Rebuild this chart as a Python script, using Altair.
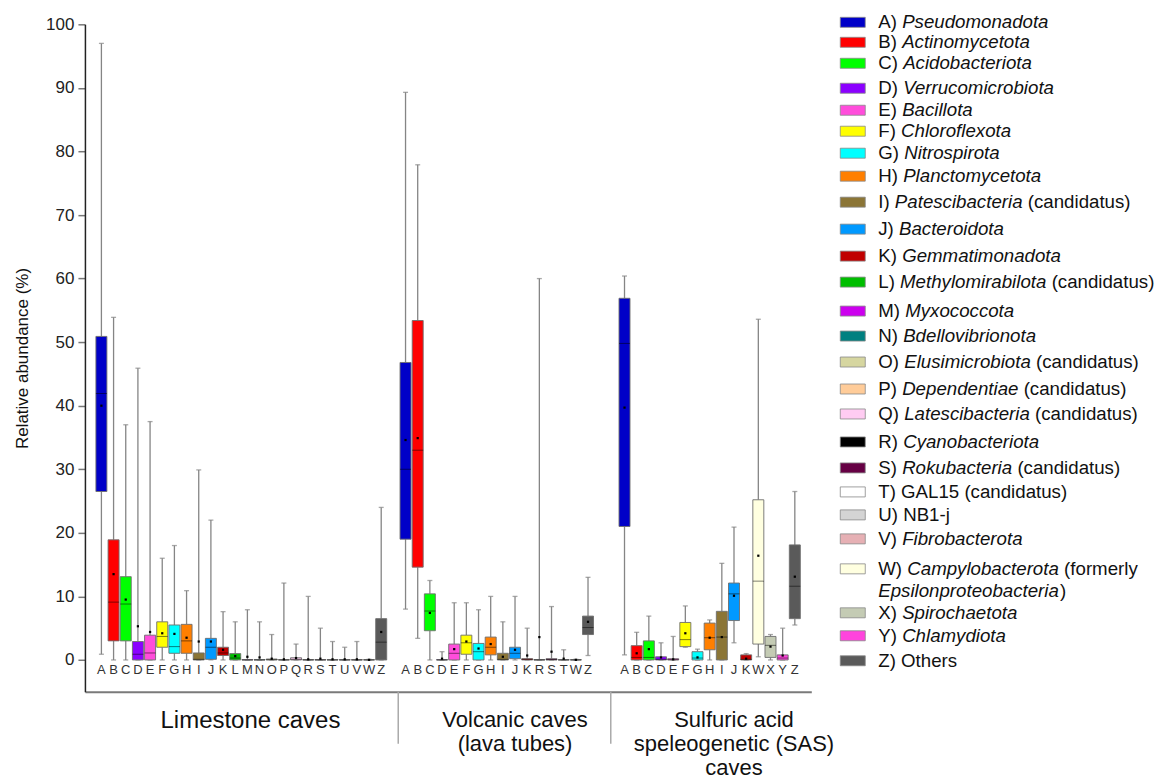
import altair as alt
import pandas as pd

# ---------------- data ----------------
phylum_letters = list("ABCDEFGHIJKLMNOPQRSTUVWXYZ")
phylum_italic = ["Pseudomonadota", "Actinomycetota", "Acidobacteriota", "Verrucomicrobiota",
                 "Bacillota", "Chloroflexota", "Nitrospirota", "Planctomycetota",
                 "Patescibacteria", "Bacteroidota", "Gemmatimonadota", "Methylomirabilota",
                 "Myxococcota", "Bdellovibrionota", "Elusimicrobiota", "Dependentiae",
                 "Latescibacteria", "Cyanobacteriota", "Rokubacteria", "", "",
                 "Fibrobacterota", "Campylobacterota", "Spirochaetota", "Chlamydiota", ""]
phylum_plain = ["", "", "", "", "", "", "", "", "(candidatus)", "", "", "(candidatus)",
                "", "", "(candidatus)", "(candidatus)", "(candidatus)", "", "(candidatus)",
                "GAL15 (candidatus)", "NB1-j", "", "(formerly", "", "", "Others"]
phylum_colors = ["#0000C8", "#FF0000", "#00FF00", "#8B00FF", "#FF4DDB", "#FFFF00", "#00FFFF",
                 "#FF7F00", "#8B7536", "#0099FF", "#C00000", "#00BE00", "#CC00EE", "#008080",
                 "#D6D6A0", "#FFCC99", "#FFCCF2", "#000000", "#660044", "#FFFFFF", "#D4D4D4",
                 "#E6B0B4", "#FFFFE0", "#C4CBB4", "#FF44DD", "#5A5A5A"]

group_names = ["Limestone caves", "Volcanic caves\n(lava tubes)",
               "Sulfuric acid\nspeleogenetic (SAS)\ncaves"]

lime_letters = list("ABCDEFGHIJKLMNOPQRSTUVWZ")
lime_min = [0.9, 0, 0, 0, 0, 0, 0, 0, 0, 0, 0, 0, 0, 0, 0, 0, 0, 0, 0, 0, 0, 0, 0, 0]
lime_q1 = [26.5, 3.0, 3.0, 0, 0, 2.0, 1.05, 1.05, 0, 0.1, 0.7, 0, 0, 0, 0, 0, 0, 0, 0, 0, 0, 0, 0, 0]
lime_med = [41.9, 9.1, 8.8, 0.9, 1.1, 3.7, 2.1, 3.0, 0.1, 2.0, 1.1, 0.3, 0, 0, 0.05, 0, 0.1, 0, 0, 0, 0, 0, 0, 2.8]
lime_q3 = [50.9, 18.9, 13.1, 2.9, 3.9, 6.0, 5.5, 5.6, 1.1, 3.4, 2.0, 1.0, 0.05, 0.05, 0.15, 0.05,
           0.35, 0.05, 0.05, 0.05, 0.05, 0.05, 0.05, 6.5]
lime_mean = [40.0, 13.5, 9.5, 5.3, 4.4, 4.2, 4.1, 3.5, 2.9, 2.9, 1.6, 0.6, 0.5, 0.4, 0.2, 0.1,
             0.3, 0.1, 0.2, 0.1, 0.1, 0.1, 0.02, 4.4]
lime_max = [97.0, 53.9, 37.0, 45.9, 37.5, 16.0, 18.0, 10.9, 29.9, 22.0, 7.6, 6.0, 7.9, 6.0, 4.0,
            12.1, 2.5, 10.0, 5.0, 2.9, 2.0, 2.9, 0.1, 24.0]

volc_letters = list("ABCDEFGHIJKRSTWZ")
volc_min = [8.0, 3.4, 0, 0, 0, 0, 0, 0, 0, 0, 0, 0, 0, 0, 0, 0.7]
volc_q1 = [19.0, 14.6, 4.6, 0, 0, 0.9, 0, 0.8, 0, 0.2, 0, 0, 0, 0, 0, 4.0]
volc_med = [30.0, 33.0, 7.7, 0, 1.05, 2.7, 1.3, 2.0, 0.1, 1.05, 0.1, 0, 0.05, 0, 0, 5.1]
volc_q3 = [46.8, 53.4, 10.4, 0.05, 2.5, 3.9, 2.6, 3.6, 1.05, 2.0, 0.2, 0.05, 0.2, 0.05, 0.05, 6.9]
volc_mean = [34.6, 34.9, 7.4, 0.2, 1.7, 2.9, 1.8, 2.5, 0.5, 1.6, 0.7, 3.6, 1.3, 0.2, 0.02, 6.0]
volc_max = [89.3, 77.9, 12.5, 1.3, 9.0, 9.0, 7.9, 10.0, 6.0, 10.0, 5.0, 60.0, 8.4, 1.6, 0.1, 13.0]

sas_letters = list("ABCDEFGHIJKWXYZ")
sas_min = [0.8, 0, 0, 0, 0, 2.0, 0, 0, 0, 2.7, 0, 0.5, 0, 0, 5.5]
sas_q1 = [21.0, 0, 0, 0, 0, 2.1, 0, 1.6, 0, 6.2, 0, 2.5, 0.4, 0, 6.5]
sas_med = [49.8, 0.4, 0.4, 0.1, 0.05, 3.2, 0.3, 3.5, 3.6, 10.4, 0.1, 12.4, 2.3, 0.3, 11.6]
sas_q3 = [56.9, 2.25, 3.0, 0.5, 0.2, 5.9, 1.3, 5.8, 7.65, 12.1, 0.8, 25.2, 3.7, 0.8, 18.1]
sas_mean = [39.7, 1.05, 1.7, 0.4, 0.1, 4.2, 0.4, 3.5, 3.6, 10.1, 0.2, 16.4, 2.1, 0.7, 13.1]
sas_max = [60.4, 4.35, 6.9, 2.7, 3.7, 8.5, 1.7, 6.3, 15.2, 20.9, 1.0, 53.6, 4.0, 5.0, 26.5]

# ---------------- layout constants ----------------
W, H = 727, 668
FONT = "Liberation Sans"
color_of = dict(zip(phylum_letters, phylum_colors))

groups = [
    ("L", lime_letters, lime_min, lime_q1, lime_med, lime_q3, lime_mean, lime_max),
    ("V", volc_letters, volc_min, volc_q1, volc_med, volc_q3, volc_mean, volc_max),
    ("S", sas_letters, sas_min, sas_q1, sas_med, sas_q3, sas_mean, sas_max),
]
rows = []
for code, lets, mn, q1, md, q3, me, mx in groups:
    for i, l in enumerate(lets):
        rows.append(dict(key=f"{code}_{l}", letter=l, lo=mn[i], q1=q1[i], med=md[i],
                         q3=q3[i], mean=me[i], hi=mx[i], color=color_of[l]))
box_df = pd.DataFrame(rows)

key_order = ([f"L_{l}" for l in lime_letters] + ["gap1"] + [f"V_{l}" for l in volc_letters]
             + ["gap2", "gap3"] + [f"S_{l}" for l in sas_letters])

xscale = alt.Scale(domain=key_order, paddingInner=0, paddingOuter=0.855)
xaxis = alt.Axis(labels=False, ticks=False, title=None, domainColor="#7a7a7a", domainWidth=2)
yscale = alt.Scale(domain=[-5, 100], nice=False, zero=False)
yaxis = alt.Axis(values=list(range(0, 101, 10)), title="Relative abundance (%)", grid=False,
                 domainColor="#222222", domainWidth=1.5, tickColor="#777777", tickSize=7,
                 tickWidth=1.5, labelFontSize=17, labelColor="#222222", labelPadding=4,
                 labelFont=FONT, titleFont=FONT, titleFontSize=17, titleFontWeight="normal",
                 titleColor="#111111", titlePadding=14)


def X(band=None):
    if band is None:
        return alt.X("key:N", scale=xscale, axis=xaxis)
    return alt.X("key:N", scale=xscale, axis=xaxis, bandPosition=band)


def Y(field):
    return alt.Y(field, scale=yscale, axis=yaxis)


WH = "#858585"
base = alt.Chart(box_df)
whisk_lo = base.mark_rule(color=WH, strokeWidth=1.3).encode(x=X(), y=Y("lo:Q"), y2="q1:Q")
whisk_hi = base.mark_rule(color=WH, strokeWidth=1.3).encode(x=X(), y=Y("q3:Q"), y2="hi:Q")
cap_lo = base.mark_tick(size=5, thickness=1.3, color=WH).encode(x=X(), y=Y("lo:Q"))
cap_hi = base.mark_tick(size=5, thickness=1.3, color=WH).encode(x=X(), y=Y("hi:Q"))
boxes = base.mark_bar(size=11, stroke="#6e6e6e", strokeWidth=0.9).encode(
    x=X(), y=Y("q1:Q"), y2="q3:Q", fill=alt.Fill("color:N", scale=None))
medians = base.mark_tick(size=11, thickness=1, color="black", opacity=0.5).encode(
    x=X(), y=Y("med:Q"))
means = base.mark_point(filled=True, size=5, shape="square", color="black", opacity=1).encode(
    x=X(), y=Y("mean:Q"))
letters = base.mark_text(fontSize=13, color="#333333", baseline="middle", font=FONT).encode(
    x=X(), y=alt.datum(-1.6), text="letter:N")

glab1 = alt.Chart(pd.DataFrame({"key": ["L_M"], "label": group_names[:1]})).mark_text(
    fontSize=24, font=FONT, color="#111111", align="center", baseline="top",
    lineBreak="\n", lineHeight=24).encode(x=X(0.75), y=alt.value(H + 17), text="label:N")
glab2 = alt.Chart(pd.DataFrame({"key": ["V_J", "S_J"], "label": group_names[1:]})).mark_text(
    fontSize=22, font=FONT, color="#111111", align="center", baseline="top",
    lineBreak="\n", lineHeight=24).encode(x=X(), y=alt.value(H + 18), text="label:N")

sep1 = alt.Chart(pd.DataFrame({"key": ["gap1"]})).mark_rule(color="#aaaaaa", strokeWidth=1.5).encode(
    x=X(0.9), y=alt.value(H), y2=alt.value(H + 52))
sep2 = alt.Chart(pd.DataFrame({"key": ["gap3"]})).mark_rule(color="#aaaaaa", strokeWidth=1.5).encode(
    x=X(0.37), y=alt.value(H), y2=alt.value(H + 52))

main = alt.layer(whisk_lo, whisk_hi, cap_lo, cap_hi, boxes, medians, means, letters,
                 glab1, glab2, sep1, sep2).properties(width=W, height=H)

# ---------------- hand-made legend (mixed italic / roman text) ----------------
ARIAL = {" ": 278, "(": 333, ")": 333, "-": 333, "1": 556, "5": 556,
         "A": 667, "B": 667, "C": 722, "D": 722, "E": 667, "F": 611, "G": 778, "H": 722,
         "I": 278, "J": 500, "K": 667, "L": 556, "M": 833, "N": 722, "O": 778, "P": 667,
         "Q": 778, "R": 722, "S": 667, "T": 611, "U": 722, "V": 667, "W": 944, "X": 667,
         "Y": 667, "Z": 611, "a": 556, "b": 556, "c": 500, "d": 556, "e": 556, "f": 278,
         "g": 556, "h": 556, "i": 222, "j": 222, "k": 500, "l": 222, "m": 833, "n": 556,
         "o": 556, "p": 556, "q": 556, "r": 333, "s": 500, "t": 278, "u": 556, "v": 500,
         "w": 722, "x": 500, "y": 500, "z": 500}
LFS = 18.7


def tw(s):
    return sum(ARIAL.get(c, 556) for c in s) * LFS / 1000.0


# row centres (pixels from plot top); legend rows are irregularly spaced in the figure
row_y = [-2, 18, 39, 64, 86, 107, 129, 152, 178, 205, 232, 258, 287, 312, 338, 365, 390,
         418, 444, 468, 491, 515, 545, 589, 612, 637]
second_line_y = 567
SW_X, TX_X = 0, 38

sw_rows, txt_rows = [], []
for i, l in enumerate(phylum_letters):
    y = row_y[i]
    sw_rows.append(dict(x0=SW_X, x1=SW_X + 25, y0=y - 5, y1=y + 5, color=phylum_colors[i]))
    pre = f"{l}) "
    txt_rows.append(dict(x=TX_X, y=y, t=pre, it=False))
    xx = TX_X + tw(pre)
    if phylum_italic[i]:
        txt_rows.append(dict(x=xx, y=y, t=phylum_italic[i], it=True))
        xx += tw(phylum_italic[i]) + tw(" ")
    if phylum_plain[i]:
        txt_rows.append(dict(x=xx, y=y, t=phylum_plain[i], it=False))
    if l == "W":
        sec = "Epsilonproteobacteria"
        txt_rows.append(dict(x=TX_X, y=second_line_y, t=sec, it=True))
        txt_rows.append(dict(x=TX_X + tw(sec) + 1, y=second_line_y, t=")", it=False))

sw_df = pd.DataFrame(sw_rows)
txt_df = pd.DataFrame(txt_rows)
LW = 325
lx = alt.Scale(domain=[0, LW], nice=False, zero=False)
ly = alt.Scale(domain=[0, H], reverse=True, nice=False, zero=False)

swatches = alt.Chart(sw_df).mark_rect(stroke="#888888", strokeWidth=0.8).encode(
    x=alt.X("x0:Q", scale=lx, axis=None), x2="x1:Q",
    y=alt.Y("y0:Q", scale=ly, axis=None), y2="y1:Q",
    fill=alt.Fill("color:N", scale=None))
txt_norm = alt.Chart(txt_df).transform_filter("!datum.it").mark_text(
    align="left", baseline="middle", fontSize=LFS, font=FONT, color="#111111").encode(
    x=alt.X("x:Q", scale=lx, axis=None), y=alt.Y("y:Q", scale=ly, axis=None), text="t:N")
txt_ital = alt.Chart(txt_df).transform_filter("datum.it").mark_text(
    align="left", baseline="middle", fontSize=LFS, font=FONT, fontStyle="italic",
    color="#111111").encode(
    x=alt.X("x:Q", scale=lx, axis=None), y=alt.Y("y:Q", scale=ly, axis=None), text="t:N")
legend = alt.layer(swatches, txt_norm, txt_ital).properties(width=LW, height=H)

chart = alt.hconcat(main, legend, spacing=29, bounds="flush").properties(
    padding={"left": 13, "top": 13, "right": 2, "bottom": 2}
).configure(font=FONT).configure_view(stroke=None)

chart.save("out.html", embed_options={"renderer": "svg", "actions": False})
